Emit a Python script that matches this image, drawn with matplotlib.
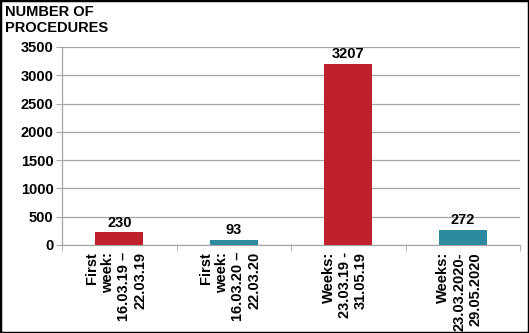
import matplotlib
matplotlib.use("Agg")
import matplotlib.pyplot as plt
from matplotlib.patches import Rectangle

categories = ["First\nweek:\n16.03.19 –\n22.03.19",
              "First\nweek:\n16.03.20 –\n22.03.20",
              "Weeks:\n23.03.19 -\n31.05.19",
              "Weeks:\n23.03.2020-\n29.05.2020"]
values = [230, 93, 3207, 272]
colors = ["#C0202A", "#2E8A9E", "#C0202A", "#2E8A9E"]
yticks = [0, 500, 1000, 1500, 2000, 2500, 3000, 3500]

plt.rcParams['font.family'] = ['Liberation Sans', 'DejaVu Sans']
FS = 10.5

fig = plt.figure(figsize=(5.29, 3.33), dpi=100)
ax = fig.add_axes([62/529, 1-245/333, (520-62)/529, (245-47)/333])

x = list(range(len(values)))
bars = ax.bar(x, values, width=0.42, color=colors, zorder=3)
for xi, v in zip(x, values):
    ax.text(xi, v + 40, str(v), ha='center', va='bottom', fontsize=FS, fontweight='bold')

ax.set_xlim(-0.5, 3.5)
ax.set_ylim(0, 3500)
ax.set_yticks(yticks)
ax.set_yticklabels([str(t) for t in yticks], fontsize=FS, fontweight='bold')
ax.yaxis.grid(True, color='#A6A6A6', linewidth=0.9, zorder=0)
ax.tick_params(axis='y', length=4, color='#A6A6A6', pad=2)

ax.set_xticks(x)
ax.set_xticklabels([])
ax.set_xticks([-0.5, 0.5, 1.5, 2.5, 3.5], minor=True)
ax.tick_params(axis='x', which='major', length=0)
ax.tick_params(axis='x', which='minor', length=4, color='#A6A6A6')
for xi, lab in zip(x, categories):
    ax.text(xi - 0.03, -0.035, lab, transform=ax.get_xaxis_transform(), rotation=90,
            ha='center', va='top', multialignment='right', fontsize=FS,
            fontweight='bold', linespacing=1.2)

for s in ['top', 'right']:
    ax.spines[s].set_visible(False)
for s in ['left', 'bottom']:
    ax.spines[s].set_color('#A6A6A6')
    ax.spines[s].set_linewidth(0.9)

fig.text(5/529, 1-5/333, "NUMBER OF\nPROCEDURES", ha='left', va='top',
         fontsize=FS, fontweight='bold', linespacing=1.15)

fig.patches.append(Rectangle((0, 0), 1, 1, transform=fig.transFigure, fill=False,
                             edgecolor='black', linewidth=2.5))

fig.savefig("out.png", dpi=100)
